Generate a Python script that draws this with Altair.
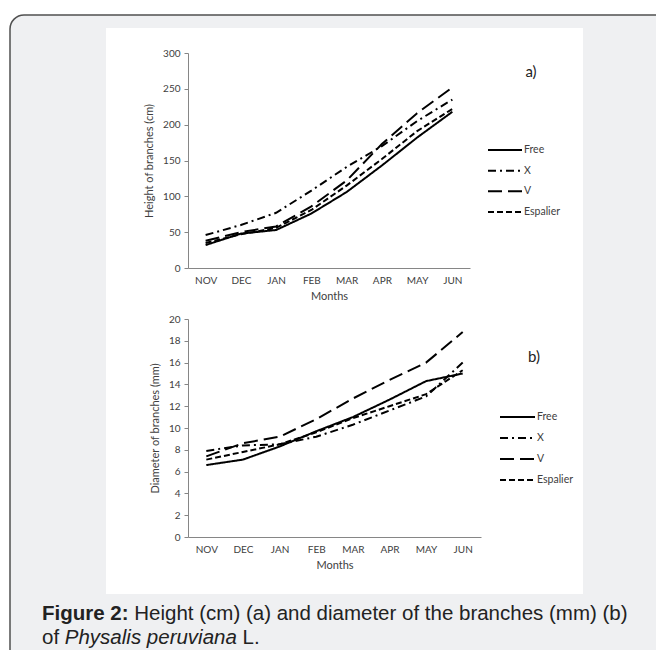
import altair as alt
import pandas as pd

months = ["NOV", "DEC", "JAN", "FEB", "MAR", "APR", "MAY", "JUN"]
series = ["Free", "X", "V", "Espalier"]

# a) Height of branches (cm)
height_free = [32, 48, 53, 76, 106, 143, 182, 218]
height_x = [46, 60, 77, 108, 141, 170, 205, 235]
height_v = [38, 50, 58, 86, 122, 173, 216, 252]
height_espalier = [35, 47, 56, 81, 115, 152, 191, 222]

# b) Diameter of branches (mm)
diam_free = [6.6, 7.1, 8.3, 9.7, 11.0, 12.6, 14.3, 15.0]
diam_x = [7.9, 8.4, 8.5, 9.2, 10.3, 11.6, 12.9, 16.0]
diam_v = [7.4, 8.6, 9.2, 10.8, 12.7, 14.4, 16.0, 18.8]
diam_espalier = [7.1, 7.8, 8.5, 9.6, 10.9, 12.0, 13.1, 15.3]

height_ticks = [0, 50, 100, 150, 200, 250, 300]
diam_ticks = [0, 2, 4, 6, 8, 10, 12, 14, 16, 18, 20]

def long_df(cols, name):
    rows = []
    for s, vals in zip(series, cols):
        for m, v in zip(months, vals):
            rows.append({"month": m, "series": s, name: v})
    return pd.DataFrame(rows)

df_h = long_df([height_free, height_x, height_v, height_espalier], "height")
df_d = long_df([diam_free, diam_x, diam_v, diam_espalier], "diameter")
df_leg = pd.DataFrame({"series": series})
one = pd.DataFrame({"k": [0]})

W, H = 648, 642
FONT = "Lato"
TXT = "#404040"
AX = "#868686"

dash_scale = alt.Scale(domain=series, range=[[1, 0], [8, 4, 2, 4], [14, 6], [6, 3]])

frame = alt.Chart(one).mark_rect(
    fill="#eff0f2", stroke="#505050", strokeWidth=1.5, cornerRadius=14
).encode(x=alt.value(2), x2=alt.value(W + 30), y=alt.value(7), y2=alt.value(H + 40))

white = alt.Chart(one).mark_rect(fill="white").encode(
    x=alt.value(98), x2=alt.value(575), y=alt.value(20), y2=alt.value(586)
)

def axis_common():
    return dict(
        labelFont=FONT, labelColor=TXT, labelFontSize=10,
        titleFont=FONT, titleColor=TXT, titleFontSize=11, titleFontWeight="normal",
        domainColor=AX, domainWidth=1, grid=False, zindex=1,
    )

def panel(df, field, ytitle, ydomain, yticks, xrange, yrange, x_offset):
    return alt.Chart(df).mark_line(color="black", strokeWidth=2).encode(
        x=alt.X("month:N", sort=months,
                scale=alt.Scale(type="point", domain=months, range=xrange, padding=0.5),
                axis=alt.Axis(orient="bottom", offset=x_offset, ticks=False, labelPadding=7,
                              labelAngle=0, title="Months", titlePadding=5, **axis_common())),
        y=alt.Y(f"{field}:Q",
                scale=alt.Scale(domain=ydomain, range=yrange, nice=False, zero=True),
                axis=alt.Axis(orient="left", offset=-180, values=yticks, tickSize=4,
                              tickColor=AX, labelPadding=4, title=ytitle, titlePadding=8,
                              **axis_common())),
        strokeDash=alt.StrokeDash("series:N", scale=dash_scale, legend=None),
        detail="series:N",
    )

top = panel(df_h, "height", "Height of branches (cm)", [0, 300], height_ticks,
            [180, 462], [260, 45], 260 - H)
bottom = panel(df_d, "diameter", "Diameter of branches (mm)", [0, 20], diam_ticks,
               [180, 473], [529, 311], 529 - H)

def legend(x0, x1, ytop, ybot):
    ysc = alt.Scale(type="point", domain=series, range=[ytop, ybot], padding=0)
    lines = alt.Chart(df_leg).mark_rule(color="black", strokeWidth=2).encode(
        x=alt.value(x0), x2=alt.value(x1),
        y=alt.Y("series:N", sort=series, scale=ysc, axis=None),
        strokeDash=alt.StrokeDash("series:N", scale=dash_scale, legend=None),
    )
    labels = alt.Chart(df_leg).mark_text(
        align="left", baseline="middle", font=FONT, fontSize=10.5, color=TXT
    ).encode(
        x=alt.value(x1 + 2),
        y=alt.Y("series:N", sort=series, scale=ysc, axis=None),
        text="series:N",
    )
    return lines, labels

lt1, lt2 = legend(480, 514, 142, 204)
lb1, lb2 = legend(492, 527, 409, 472)

lab_a = alt.Chart(one).mark_text(text="a)", font=FONT, fontSize=15, color="#222",
                                 align="center", baseline="middle").encode(
    x=alt.value(523), y=alt.value(64))
lab_b = alt.Chart(one).mark_text(text="b)", font=FONT, fontSize=15, color="#222",
                                 align="center", baseline="middle").encode(
    x=alt.value(526), y=alt.value(349))

CF = "Liberation Sans"
CS = 20.5
def cap(text, x, y, weight="normal", style="normal"):
    return alt.Chart(one).mark_text(text=text, font=CF, fontSize=CS, fontWeight=weight,
                                    fontStyle=style, color="#222", align="left",
                                    baseline="middle").encode(x=alt.value(x), y=alt.value(y))

u = CS / 1000.0
x_bold = 34
x_rest = x_bold + (4223 + 278) * u
Y1, Y2 = 606, 630
cap1a = cap("Figure 2:", x_bold, Y1, weight="bold")
cap1b = cap("Height (cm) (a) and diameter of the branches (mm) (b)", x_rest, Y1)
x_it = 34 + (834 + 278) * u
x_l = x_it + (3723 + 278 + 4391 + 278) * u
cap2a = cap("of", 34, Y2)
cap2b = cap("Physalis peruviana", x_it, Y2, style="italic")
cap2c = cap("L.", x_l, Y2)

chart = alt.layer(
    frame, white, top, bottom, lt1, lt2, lb1, lb2, lab_a, lab_b,
    cap1a, cap1b, cap2a, cap2b, cap2c
).resolve_scale(
    x="independent", y="independent"
).properties(
    width=W, height=H, padding=0, autosize=alt.AutoSizeParams(type="none")
).configure_view(stroke="transparent")

chart.save("out.html", embed_options={"renderer": "svg", "actions": False})
